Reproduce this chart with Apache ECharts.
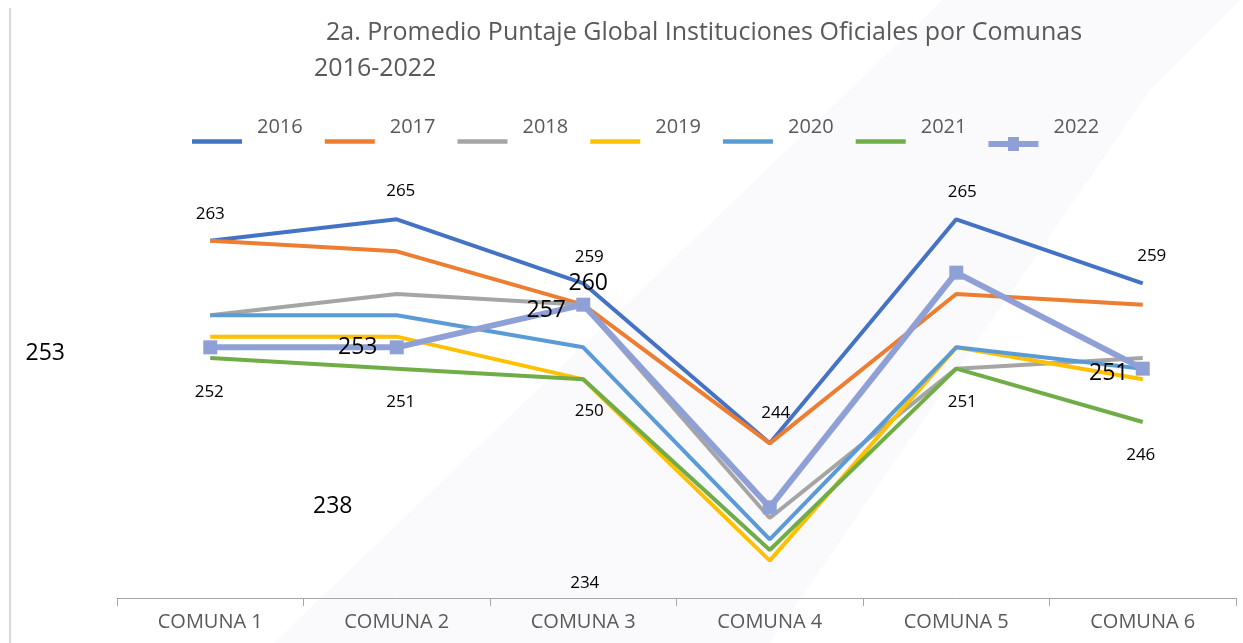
<!DOCTYPE html>
<html>
<head>
<meta charset="utf-8">
<script src="https://cdn.jsdelivr.net/npm/echarts@6/dist/echarts.min.js"></script>
<style>
  html, body { margin: 0; padding: 0; background: #fff; }
  #J_Chart { width: 1243px; height: 643px; }
</style>
</head>
<body>
<div id="J_Chart"></div>
<script>
'use strict';

const comunas = ['COMUNA 1', 'COMUNA 2', 'COMUNA 3', 'COMUNA 4', 'COMUNA 5', 'COMUNA 6'];
const years = ['2016', '2017', '2018', '2019', '2020', '2021', '2022'];

const v2016 = [263, 265, 259, 244, 265, 259];
const v2017 = [263, 262, 257, 244, 258, 257];
const v2018 = [256, 258, 257, 237, 251, 252];
const v2019 = [254, 254, 250, 233, 253, 250];
const v2020 = [256, 256, 253, 235, 253, 251];
const v2021 = [252, 251, 250, 234, 251, 246];
const v2022 = [253, 253, 257, 238, 260, 251];

const COLORS = ['#4472C4', '#ED7D31', '#A5A5A5', '#FFC000', '#5B9BD5', '#70AD47', '#8FA0D6'];
const FONT = '"Open Sans", "Noto Sans", sans-serif';
const GREY_TEXT = '#595959';

// where Excel dropped each data label, relative to its point
const off2016 = [[0, -27], [4, -28], [6, -26], [6, -30], [6, -27], [9, -27]];
const off2021 = [[-1, 34], [4, 33], [6, 32], [-185, 33], [6, 33], [-2, 33]];
const off2022 = [[-165, 6], [-39, 0], [-37, 6], [-437, -1], [-368, 11], [-34, 5]];

// legend icons sit below the text in the original, so the icon box is
// padded with zero-area subpaths (top and bottom) to push the mark down
const ICON_LINE = 'path://M0,0L50,0Z M0,48L50,48Z M0,36.25h50v4.5h-50Z';
const ICON_SQUARE =
  'path://M0,0L50,0Z M0,38h19.5v-4h11v4h19.5v6h-19.5v4h-11v-4h-19.5Z';

function withLabels(values, offsets) {
  return values.map((v, i) => ({ value: v, label: { offset: offsets[i] } }));
}

function lineSeries(name, data, color, label) {
  return {
    name,
    type: 'line',
    data,
    symbol: 'circle',
    symbolSize: 1,
    showSymbol: true,
    itemStyle: { color: 'rgba(0,0,0,0)' },
    lineStyle: { color, width: 4 },
    label: label
      ? {
          show: true,
          position: 'inside',
          color: '#000',
          fontSize: 17,
          fontFamily: FONT,
          textBorderWidth: 0,
        }
      : { show: false },
    emphasis: { disabled: true },
    silent: true,
  };
}

const chart = echarts.init(document.getElementById('J_Chart'));

const option = {
  animation: false,
  backgroundColor: '#ffffff',
  title: [
    {
      text: '2a. Promedio Puntaje Global Instituciones Oficiales por Comunas',
      left: 326,
      top: 20,
      padding: 0,
      textStyle: { fontSize: 25, fontWeight: 'normal', color: GREY_TEXT, fontFamily: FONT },
    },
    {
      text: '2016-2022',
      left: 314,
      top: 56,
      padding: 0,
      textStyle: { fontSize: 25, fontWeight: 'normal', color: GREY_TEXT, fontFamily: FONT },
    },
  ],
  legend: {
    data: years.map((y, i) => ({
      name: y,
      icon: i === 6 ? ICON_SQUARE : ICON_LINE,
      itemStyle: { color: COLORS[i], borderWidth: 0 },
    })),
    left: 187,
    top: 98,
    itemWidth: 50,
    itemHeight: 48,
    itemGap: 22,
    symbolKeepAspect: false,
    textStyle: {
      fontSize: 20,
      color: GREY_TEXT,
      fontFamily: FONT,
      padding: [0, 0, 0, 10],
    },
  },
  grid: { left: 117, right: 7, top: 166, bottom: 45 },
  xAxis: {
    type: 'category',
    data: comunas,
    boundaryGap: true,
    axisLine: { show: true, lineStyle: { color: '#a6a6a6', width: 1 } },
    axisTick: { show: true, length: 8, lineStyle: { color: '#a6a6a6', width: 1 } },
    axisLabel: { color: GREY_TEXT, fontSize: 20, fontFamily: FONT, margin: 14 },
  },
  yAxis: {
    type: 'value',
    min: 229.5,
    max: 270,
    show: false,
    splitLine: { show: false },
  },
  graphic: [
    {
      type: 'polygon',
      z: -10,
      silent: true,
      shape: { points: [[943, 0], [1240, 0], [1150, 90], [770, 643], [274, 643]] },
      style: { fill: '#fafafc' },
    },
    {
      type: 'line',
      z: -5,
      silent: true,
      shape: { x1: 10, y1: 8, x2: 10, y2: 643 },
      style: { stroke: '#d9d9d9', lineWidth: 2 },
    },
  ],
  series: [
    lineSeries('2016', withLabels(v2016, off2016), COLORS[0], true),
    lineSeries('2017', v2017, COLORS[1], false),
    lineSeries('2018', v2018, COLORS[2], false),
    lineSeries('2019', v2019, COLORS[3], false),
    lineSeries('2020', v2020, COLORS[4], false),
    lineSeries('2021', withLabels(v2021, off2021), COLORS[5], true),
    {
      name: '2022',
      type: 'line',
      data: withLabels(v2022, off2022),
      symbol: 'rect',
      symbolSize: 14,
      showSymbol: true,
      itemStyle: { color: COLORS[6] },
      lineStyle: { color: COLORS[6], width: 6 },
      label: {
        show: true,
        position: 'inside',
        color: '#000',
        fontSize: 23,
        fontFamily: FONT,
        textBorderWidth: 0,
      },
      emphasis: { disabled: true },
      silent: true,
    },
  ],
};

chart.setOption(option);
</script>
</body>
</html>
